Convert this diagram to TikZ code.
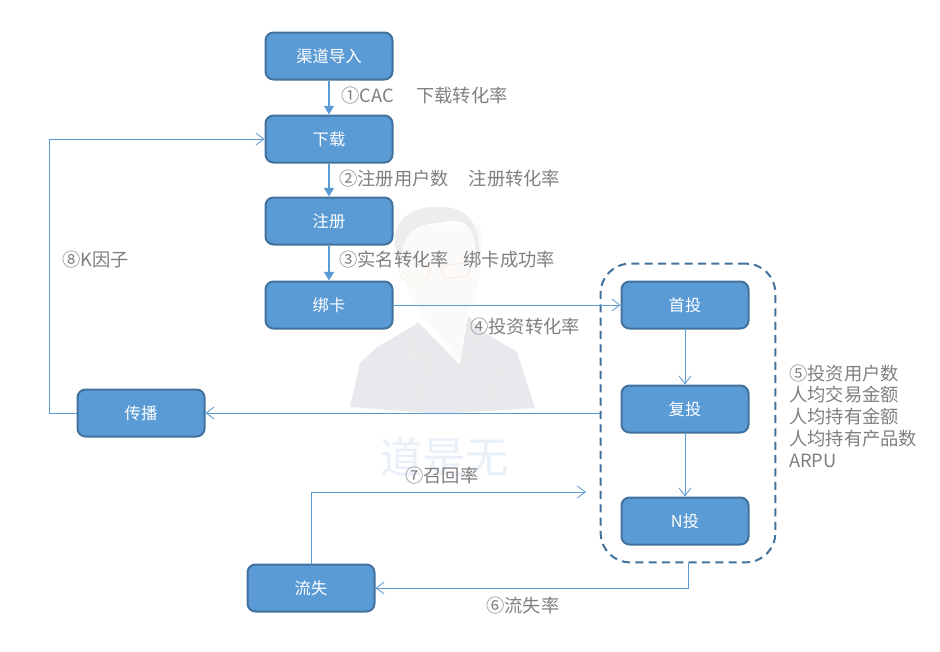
\documentclass[tikz,border=0pt]{standalone}
\usepackage{fontspec}
\setmainfont{Noto Sans CJK SC}
\usetikzlibrary{arrows.meta,positioning}
\definecolor{boxfill}{HTML}{5B9BD5}
\definecolor{boxline}{HTML}{41719C}
\definecolor{grouptext}{HTML}{7F7F7F}
\definecolor{markshirt}{HTML}{E8E9EC}
\definecolor{markface}{HTML}{FCFAF8}
\definecolor{markhair}{HTML}{EEECEC}
\definecolor{markline}{HTML}{F3EAE3}
\definecolor{marktext}{HTML}{EAF0F8}
\begin{document}
\begin{tikzpicture}[x=0.75pt,y=-0.75pt,
flownode/.style={rectangle, rounded corners=6pt, draw=boxline, fill=boxfill, line width=1.5pt, text=white, font=\fontsize{12.2}{14}\selectfont, minimum width=95.25pt, minimum height=35.25pt, inner sep=0pt},
groupnode/.style={rectangle, rounded corners=22pt, draw=boxline, dashed, dash pattern=on 6pt off 4pt, line width=1.5pt, minimum width=131pt, minimum height=224pt},
labelnode/.style={anchor=west, text=grouptext, font=\fontsize{13.7}{16.3}\selectfont, inner sep=0pt},
solidline/.style={draw=boxfill, line width=0.9pt, -{Triangle[length=6.5pt,width=7.5pt]}},
thinline/.style={draw=boxfill, line width=0.75pt, -{Straight Barb[length=6pt,width=9pt,line width=0.6pt]}},
]
\useasboundingbox (0,0) rectangle (940,651);

%Watermark
\fill[markshirt] (350,407) -- (360,363) -- (377,347) -- (415,325) -- (418,322) -- (460,365) -- (468,315) -- (480,330) -- (517,352) -- (535,408) -- (440,414) -- cycle;
\fill[markface] (398,240) .. controls (400,290) and (420,312) .. (425,318) -- (460,362) -- (467,312) .. controls (480,290) and (482,265) .. (482,240) -- (480,225) -- (400,225) -- cycle;
\fill[markhair] (395,245) .. controls (392,215) and (420,205) .. (440,207) .. controls (465,207) and (482,220) .. (479,262) -- (474,240) .. controls (472,225) and (462,218) .. (445,222) .. controls (425,226) and (405,220) .. (400,262) -- cycle;
\draw[markline, line width=0.6pt, rounded corners=2pt] (397,262) -- (430,266) -- (428,280) -- (402,280) -- cycle (440,266) -- (472,262) -- (468,276) -- (444,279) -- cycle;
\draw[markline, line width=0.6pt] (415,330) -- (408,360) -- (428,350) -- (422,400) (468,315) -- (475,345) -- (460,365) (500,365) -- (490,400);
\node[text=marktext, font=\fontsize{32.5}{36}\selectfont, inner sep=0pt] (brand) at (444,457) {道是无};

%Nodes
\node[groupnode] (invest) at (688,413) {};
\node[flownode] (channel) at (329,56) {渠道导入};
\node[flownode] (download) [below=25.5pt of channel] {下载};
\node[flownode] (register) [below=24.75pt of download] {注册};
\node[flownode] (bindcard) [below=26.25pt of register] {绑卡};
\node[flownode] (first) [right=170.25pt of bindcard] {首投};
\node[flownode] (repeat) [below=41.25pt of first] {复投};
\node[flownode] (nth) [below=47.25pt of repeat] {N投};
\node[flownode] (spread) at (141,413) {传播};
\node[flownode] (lost) at (311,588) {流失};
\coordinate (recall) at (586,492);

%Labels
\node[labelnode] (lcac) at (341,96) {①CAC\hspace{17pt}下载转化率};
\node[labelnode] (lreg) at (339,179) {②注册用户数\hspace{15pt}注册转化率};
\node[labelnode] (lname) at (339,260) {③实名转化率\hspace{11pt}绑卡成功率};
\node[labelnode] (lrate) at (470,327) {④投资转化率};
\node[labelnode, align=left] (lusers) at (789,416) {⑤投资用户数\\人均交易金额\\人均持有金额\\人均持有产品数\\ARPU};
\node[labelnode] (lchurn) at (486,606) {⑥流失率};
\node[labelnode] (lback) at (405,476) {⑦召回率};
\node[labelnode] (lkf) at (62,260) {⑧K因子};

%Lines
\draw[solidline] (channel.south) -- (download.north);
\draw[solidline] (download.south) -- (register.north);
\draw[solidline] (register.south) -- (bindcard.north);
\draw[thinline] (bindcard.east) -- (first.west);
\draw[thinline] (first.south) -- (repeat.north);
\draw[thinline] (repeat.south) -- (nth.north);
\draw[thinline] (invest.west |- spread.east) -- (spread.east);
\draw[thinline] (spread.west) -- ++(-27,0) |- (download.west);
\draw[thinline] (invest.south) |- (lost.east);
\draw[thinline] (lost.north) |- (recall);

\end{tikzpicture}
\end{document}
